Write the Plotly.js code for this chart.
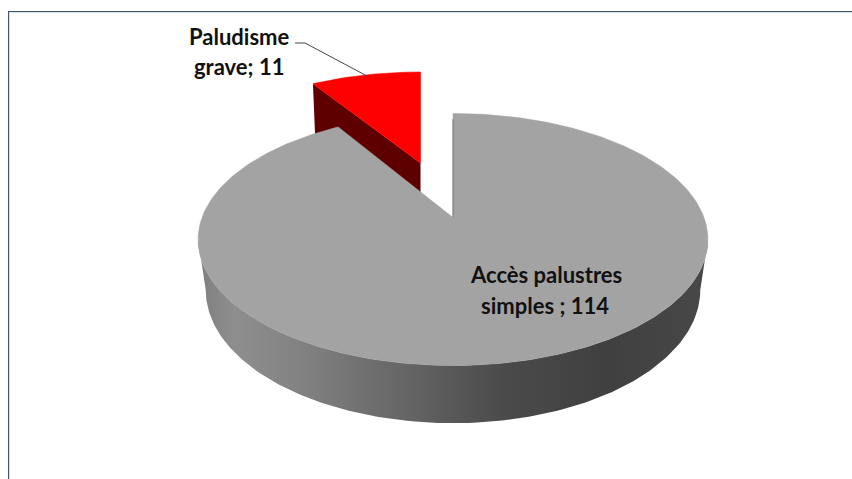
<!DOCTYPE html>
<html>
<head>
<meta charset="utf-8">
<script src="https://cdn.plot.ly/plotly-3.0.1.min.js"></script>
<style>html,body{margin:0;padding:0;background:#fff}#c{width:852px;height:479px}</style>
</head>
<body>
<div id="c"></div>
<script>
// Data
var categories = ["Accès palustres simples", "Paludisme grave"];
var values = [114, 11];
var labelLines = [["Accès palustres", "simples ; 114"], ["Paludisme", "grave; 11"]];
var sliceColors = ["#a3a3a3", "#ff0000"];
var wallDark = "#5e0000";

// Perspective projection of the tilted pie (Plotly has no 3D pie)
var R = 251, S = 122.2, K = 0.1746;
function pt(deg, c) {
  var t = deg * Math.PI / 180, u = Math.sin(t), v = Math.cos(t), w = 1 + K * v;
  return [c.x + c.sx * R * u / w, c.y - c.sy * S * v / w];
}
function arc(a0, a1, c) {
  var n = Math.max(2, Math.ceil(Math.abs(a1 - a0))), out = [];
  for (var i = 0; i <= n; i++) out.push(pt(a0 + (a1 - a0) * i / n, c));
  return out;
}
function poly(points, extra) {
  var tr = {
    x: points.map(function (p) { return p[0]; }),
    y: points.map(function (p) { return p[1]; }),
    mode: "lines", fill: "toself", hoverinfo: "skip", showlegend: false
  };
  for (var k in extra) tr[k] = extra[k];
  return tr;
}

var total = values.reduce(function (a, b) { return a + b; }, 0);
var split = values[0] / total * 360;

var face = { x: 453, y: 217.5, sx: 1, sy: 1 };
var rim = { x: 453, y: 266.8, sx: 0.97, sy: 1.056 };
var red = { x: 420.5, y: 163, sx: 0.937, sy: 0.875 };

var wallPts = arc(100, 260, face).concat(arc(260, 100, rim));
var wall = poly(wallPts, {
  line: { width: 0, color: "rgba(0,0,0,0)" },
  fillcolor: "#808080",
  fillgradient: {
    type: "horizontal", start: 198, stop: 710,
    colorscale: [[0, "#7e7e7e"], [0.07, "#8e8e8e"], [0.2, "#828282"], [0.4, "#666666"],
                 [0.6, "#4a4a4a"], [0.8, "#404040"], [1, "#484848"]]
  }
});

var redCorner = pt(split, red), redApex = [red.x, red.y];
var redWall = poly([redCorner, redApex, [red.x, red.y + 42], [redCorner[0] + 2.5, redCorner[1] + 60]], {
  line: { width: 0, color: wallDark }, fillcolor: wallDark
});
var redFace = poly([redApex].concat(arc(split, 360, red)).concat([redApex]), {
  line: { width: 0.5, color: sliceColors[1] }, fillcolor: sliceColors[1]
});
var grayFace = poly([[face.x, face.y]].concat(arc(0, split, face)).concat([[face.x, face.y]]), {
  line: { width: 0.5, color: sliceColors[0] }, fillcolor: sliceColors[0]
});
var top0 = pt(0, face);
var innerEdge = {
  x: [top0[0], face.x], y: [top0[1] + 6, face.y], mode: "lines",
  line: { color: "#7a7a7a", width: 1 }, hoverinfo: "skip", showlegend: false
};
var leader = {
  x: [295, 305, 367], y: [43, 43, 76], mode: "lines",
  line: { color: "#474747", width: 1 }, hoverinfo: "skip", showlegend: false
};

function lab(text, x, y) {
  return { text: text, x: x, y: y, xref: "x", yref: "y", showarrow: false,
    xanchor: "center", yanchor: "middle",
    font: { family: "Lato, Carlito, sans-serif", size: 22, color: "#111111", weight: 700 } };
}

Plotly.newPlot("c", [redWall, redFace, wall, grayFace, innerEdge, leader], {
  width: 852, height: 479,
  margin: { l: 0, r: 0, t: 0, b: 0 },
  paper_bgcolor: "#ffffff", plot_bgcolor: "#ffffff",
  showlegend: false,
  xaxis: { range: [0, 852], visible: false, fixedrange: true },
  yaxis: { range: [479, 0], visible: false, fixedrange: true },
  annotations: [
    lab(labelLines[1][0], 238.5, 36),
    lab(labelLines[1][1], 239, 66),
    lab(labelLines[0][0], 545.5, 274),
    lab(labelLines[0][1], 545, 305)
  ],
  shapes: [
    { type: "line", xref: "x", yref: "y", x0: 9.5, x1: 9.5, y0: 12.5, y1: 479, line: { color: "#d6deea", width: 1 } },
    { type: "line", xref: "x", yref: "y", x0: 9.5, x1: 852, y0: 12.5, y1: 12.5, line: { color: "#d6deea", width: 1 } },
    { type: "line", xref: "x", yref: "y", x0: 8.5, x1: 8.5, y0: 11, y1: 479, line: { color: "#46556e", width: 1 } },
    { type: "line", xref: "x", yref: "y", x0: 8, x1: 852, y0: 11.5, y1: 11.5, line: { color: "#46556e", width: 1 } }
  ]
}, { displayModeBar: false, staticPlot: true });
</script>
</body>
</html>
